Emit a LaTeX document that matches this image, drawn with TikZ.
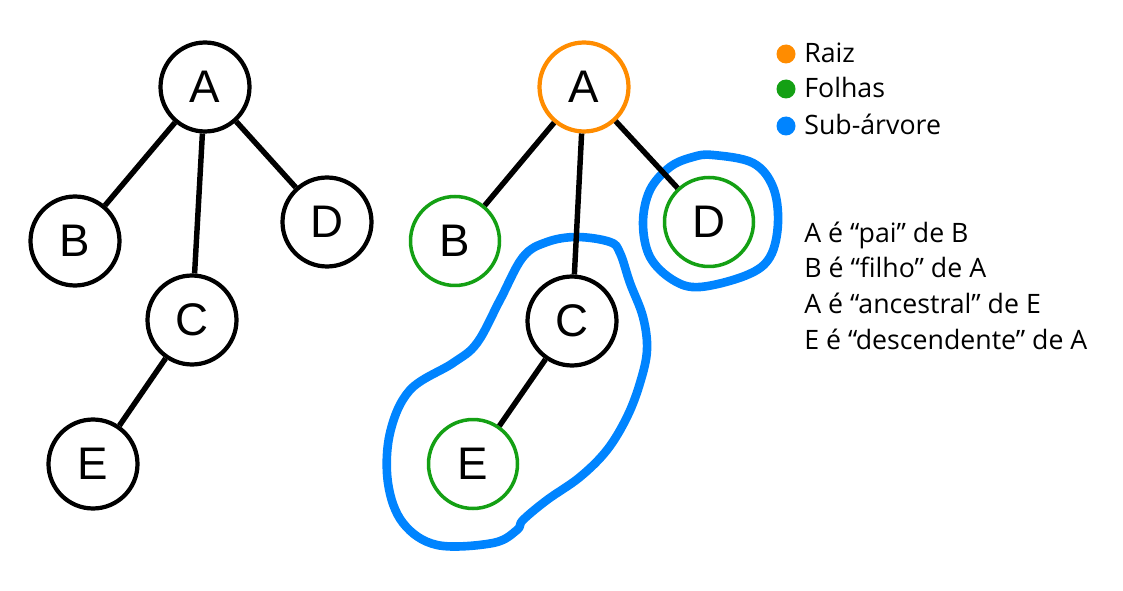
\documentclass[tikz,border=0pt]{standalone}
\usepackage{fontspec}
\setmainfont{Liberation Sans}
\newfontfamily\legendfont{Open Sans}
\definecolor{raizorange}{RGB}{255,140,0}
\definecolor{folhagreen}{RGB}{20,160,20}
\definecolor{subblue}{RGB}{0,132,255}
\tikzset{vert/.style={circle, draw=black, line width=2.4pt, minimum size=1.78cm, inner sep=0pt, font=\fontsize{26}{30}\selectfont},
         raiz/.style={vert, draw=raizorange},
         folha/.style={vert, draw=folhagreen, line width=2pt},
         edge/.style={black, line width=3.1pt},
         subtree/.style={subblue, line width=4.9pt, line join=round},
         legend/.style={font=\legendfont\fontsize{15.2}{18}\selectfont, anchor=base west, inner sep=0pt},
         dot/.style={circle, inner sep=0pt, minimum size=0.38cm}}

\begin{document}
\begin{tikzpicture}[x=0.02cm,y=-0.02cm]
   \useasboundingbox (0,0) rectangle (1123,591);
   % arvore simples
   \begin{scope}
    \node[vert] (lA) at (205, 87) {A};
    \node[vert] (lB) at ( 75,241) {B};
    \node[vert] (lD) at (327,222) {D};
    \node[vert] (lC) at (192,320) {C};
    \node[vert] (lE) at ( 93,464) {E};
    \draw[edge] (lA) -- (lB);
    \draw[edge] (lA) -- (lC);
    \draw[edge] (lA) -- (lD);
    \draw[edge] (lC) -- (lE);
   \end{scope}
   % arvore marcada
   \begin{scope}
    \draw[subtree] plot[smooth cycle, tension=0.6] coordinates {
      (713,155) (753,163) (773,187) (778,223) (770,257) (747,275) (700,287)
      (673,280) (650,257) (643,223) (650,190) (670,167) (693,157)};
    \draw[subtree] plot[smooth cycle, tension=0.6] coordinates {
      (577,237) (610,242) (620,253) (630,283) (643,317) (647,350) (640,383)
      (627,417) (607,450) (580,477) (547,500) (523,520) (517,530) (493,543)
      (437,545) (403,523) (388,483) (390,433) (410,390) (453,363) (477,343)
      (500,300) (523,257) (547,242)};
    \node[raiz]  (rA) at (584, 87) {A};
    \node[folha] (rB) at (455,241) {B};
    \node[folha] (rD) at (709,222) {D};
    \node[vert]  (rC) at (572,321) {C};
    \node[folha] (rE) at (473,464) {E};
    \draw[edge] (rA) -- (rB);
    \draw[edge] (rA) -- (rC);
    \draw[edge] (rA) -- (rD);
    \draw[edge] (rC) -- (rE);
   \end{scope}
   % legenda
   \node[dot, fill=raizorange] (dRaiz)  at (786, 54) {};
   \node[dot, fill=folhagreen] (dFolha) at (786, 89) {};
   \node[dot, fill=subblue]    (dSub)   at (786,126) {};
   \node[legend] (tRaiz)  at (804, 63) {Raiz};
   \node[legend] (tFolha) at (804, 98) {Folhas};
   \node[legend] (tSub)   at (804,135) {Sub-árvore};
   \node[legend] (tPai)   at (804,243) {A é “pai” de B};
   \node[legend] (tFilho) at (804,278) {B é “filho” de A};
   \node[legend] (tAnc)   at (804,314) {A é “ancestral” de E};
   \node[legend] (tDesc)  at (804,350) {E é “descendente” de A};
\end{tikzpicture}
\end{document}
